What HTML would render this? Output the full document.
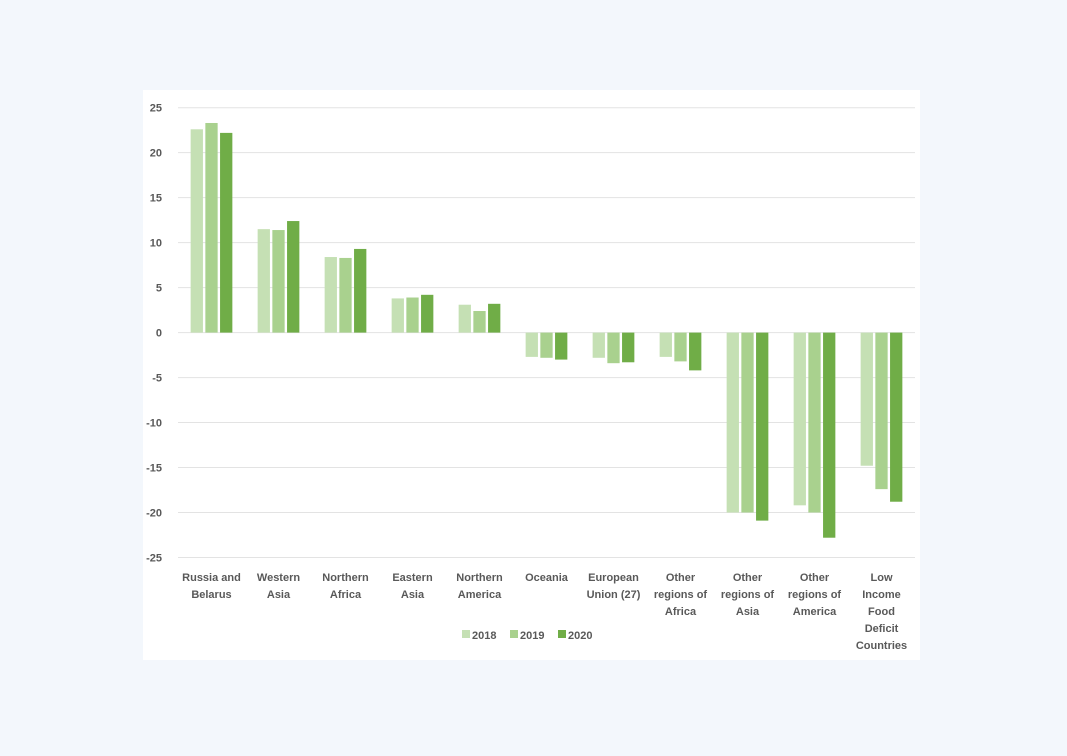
<!DOCTYPE html>
<html><head><meta charset="utf-8"><style>
body{margin:0;background:#f3f7fc;font-family:"Liberation Sans",sans-serif;}
#panel{position:absolute;left:143px;top:90px;width:777px;height:570px;background:#fff;}
svg{position:absolute;left:0;top:0}
text{font-family:"Liberation Sans",sans-serif;font-weight:bold;font-size:11px;fill:#595959}
</style></head><body>
<div id="panel"></div>
<svg id="chart" width="1067" height="756"></svg>
<script>
const categories=[["Russia and","Belarus"],["Western","Asia"],["Northern","Africa"],["Eastern","Asia"],["Northern","America"],["Oceania"],["European","Union (27)"],["Other","regions of","Africa"],["Other","regions of","Asia"],["Other","regions of","America"],["Low","Income","Food","Deficit","Countries"]];
const series2018=[22.6,11.5,8.4,3.8,3.1,-2.7,-2.8,-2.7,-20,-19.2,-14.8];
const series2019=[23.3,11.4,8.3,3.9,2.4,-2.8,-3.4,-3.2,-20,-20,-17.4];
const series2020=[22.2,12.4,9.3,4.2,3.2,-3.0,-3.3,-4.2,-20.9,-22.8,-18.8];
const yTicks=[25,20,15,10,5,0,-5,-10,-15,-20,-25];
const seriesNames=["2018","2019","2020"];
const colors=["#c5e0b4","#a9d18e","#70ad47"];
const svg=document.getElementById('chart');const NS="http://www.w3.org/2000/svg";
const x0=178,x1=915,yMax=25,yMin=-25,yTop=107.7,yBot=557.5;
const y=v=>yTop+(yMax-v)*(yBot-yTop)/(yMax-yMin);
const gw=(x1-x0)/categories.length;
function mk(t,a){const e=document.createElementNS(NS,t);for(const k in a)e.setAttribute(k,a[k]);svg.appendChild(e);return e;}
yTicks.forEach(t=>{
 const l=mk('line',{x1:x0,x2:x1,y1:y(t),y2:y(t),stroke:'#e3e3e3','stroke-width':1});
 
 
 const tx=mk('text',{x:162,y:y(t)+4,'text-anchor':'end'});tx.textContent=t;
 
 
});
const all=[series2018,series2019,series2020];const bw=12.3,gap=2.4;
categories.forEach((c,i)=>{
 const cx=x0+gw*(i+0.5);
 all.forEach((s,j)=>{
  const v=s[i];const bx=cx+(j-1)*(bw+gap)-bw/2;
  const r=mk('rect',{x:bx,y:Math.min(y(v),y(0)),width:bw,height:Math.abs(y(v)-y(0)),fill:colors[j]});
  
  
 });
 c.forEach((ln,k)=>{const t=mk('text',{x:cx,y:581+k*17,'text-anchor':'middle'});t.textContent=ln;
  
  });
});
let lx=462;
seriesNames.forEach((n,j)=>{
 const r=mk('rect',{x:lx,y:630,width:8,height:8,fill:colors[j]});
 
 
 const t=mk('text',{x:lx+10,y:639});t.textContent=n;
 
 
 lx+=48;
});
</script>
</body></html>
